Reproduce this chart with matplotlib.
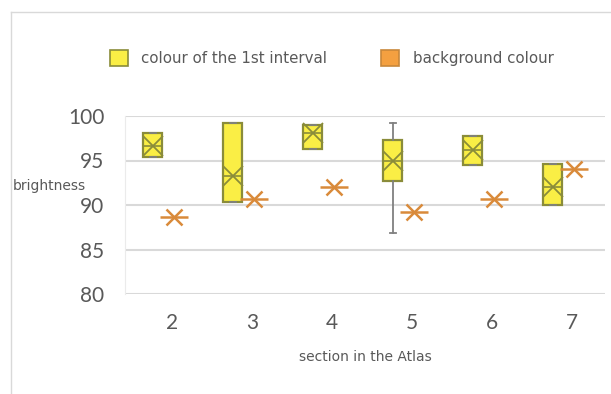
import matplotlib
matplotlib.use("Agg")
import matplotlib.pyplot as plt
from matplotlib.patches import Patch
from matplotlib.lines import Line2D

# section numbers in the atlas
sections = [2, 3, 4, 5, 6, 7]

# colour of the 1st interval (box & whisker stats)
q1 = [95.4, 90.3, 96.3, 92.7, 94.5, 90.0]
q3 = [98.1, 99.2, 99.0, 97.3, 97.75, 94.6]
med = [96.6, 93.3, 98.1, 94.9, 96.2, 92.0]
mean = [96.6, 93.3, 98.1, 94.9, 96.2, 92.0]
wlo = [95.4, 90.3, 96.3, 86.9, 94.5, 90.0]
whi = [98.1, 99.2, 99.0, 99.2, 97.75, 94.6]

# background colour (single value per section)
bg = [88.7, 90.7, 92.0, 89.2, 90.7, 94.0]

yticks = [80, 85, 90, 95, 100]

yellow = "#FAEE45"
olive = "#8A8C3A"
orange = "#D98A3A"
grid_c = "#D9D9D9"
txt_c = "#595959"

fig = plt.figure(figsize=(6.11, 3.94), dpi=100)
ax = fig.add_axes([125 / 611, 1 - 294 / 394, 480 / 611, 178 / 394])

stats = []
for i in range(len(sections)):
    stats.append(dict(q1=q1[i], q3=q3[i], med=med[i], mean=mean[i],
                      whislo=wlo[i], whishi=whi[i], fliers=[]))

pos = [s - 0.24 for s in sections]
ax.bxp(stats, positions=pos, widths=0.24, patch_artist=True, showmeans=True,
       boxprops=dict(facecolor=yellow, edgecolor=olive, linewidth=1.6),
       medianprops=dict(color=olive, linewidth=1.2),
       whiskerprops=dict(color="#808080", linewidth=1.3),
       capprops=dict(color="#808080", linewidth=1.3),
       meanprops=dict(marker="x", markeredgecolor=olive, markersize=14,
                      markeredgewidth=1.3),
       capwidths=0.08, zorder=3)

bx = [s + 0.02 for s in sections]
ax.plot(bx, bg, linestyle="none", marker="x", markersize=12,
        markeredgecolor=orange, markeredgewidth=1.8, zorder=4)
ax.plot(bx, bg, linestyle="none", marker="_", markersize=20,
        markeredgecolor=orange, markeredgewidth=1.8, zorder=4)

ax.set_xlim(1.4125, 7.4125)
ax.set_ylim(80, 100)
ax.set_yticks(yticks)
ax.set_xticks(sections)
ax.set_xticklabels([str(s) for s in sections])
ax.yaxis.grid(True, color=grid_c, linewidth=1.5)
ax.set_axisbelow(True)
for side in ["top", "right", "bottom"]:
    ax.spines[side].set_visible(False)
ax.spines["left"].set_color("#EBEBEB")
ax.tick_params(length=0, labelsize=15, labelcolor=txt_c)
ax.tick_params(axis="y", pad=15)
ax.tick_params(axis="x", pad=14)
for lab in ax.get_xticklabels() + ax.get_yticklabels():
    lab.set_family("Lato")

ax.set_xlabel("section in the Atlas", fontsize=10, color=txt_c, labelpad=12)
fig.text(13 / 611, 1 - 186 / 394, "brightness", fontsize=10, color=txt_c,
         va="center", ha="left")

handles = [Patch(facecolor=yellow, edgecolor=olive, linewidth=1.2),
           Patch(facecolor="#F4A040", edgecolor="#C8873A", linewidth=1.2)]
fig.legend(handles, ["colour of the 1st interval", "background colour"],
           loc="center", bbox_to_anchor=(0.5426, 1 - 58 / 394), ncol=2,
           frameon=False, fontsize=10.8, labelcolor=txt_c,
           handlelength=1.2, handleheight=1.2, handletextpad=0.9,
           columnspacing=3.6)

# chart border lines (left and top)
fig.add_artist(Line2D([11 / 611, 11 / 611], [0, 1 - 12 / 394],
                      color=grid_c, linewidth=1))
fig.add_artist(Line2D([11 / 611, 1], [1 - 12 / 394, 1 - 12 / 394],
                      color=grid_c, linewidth=1))

fig.savefig("out.png", dpi=100)
